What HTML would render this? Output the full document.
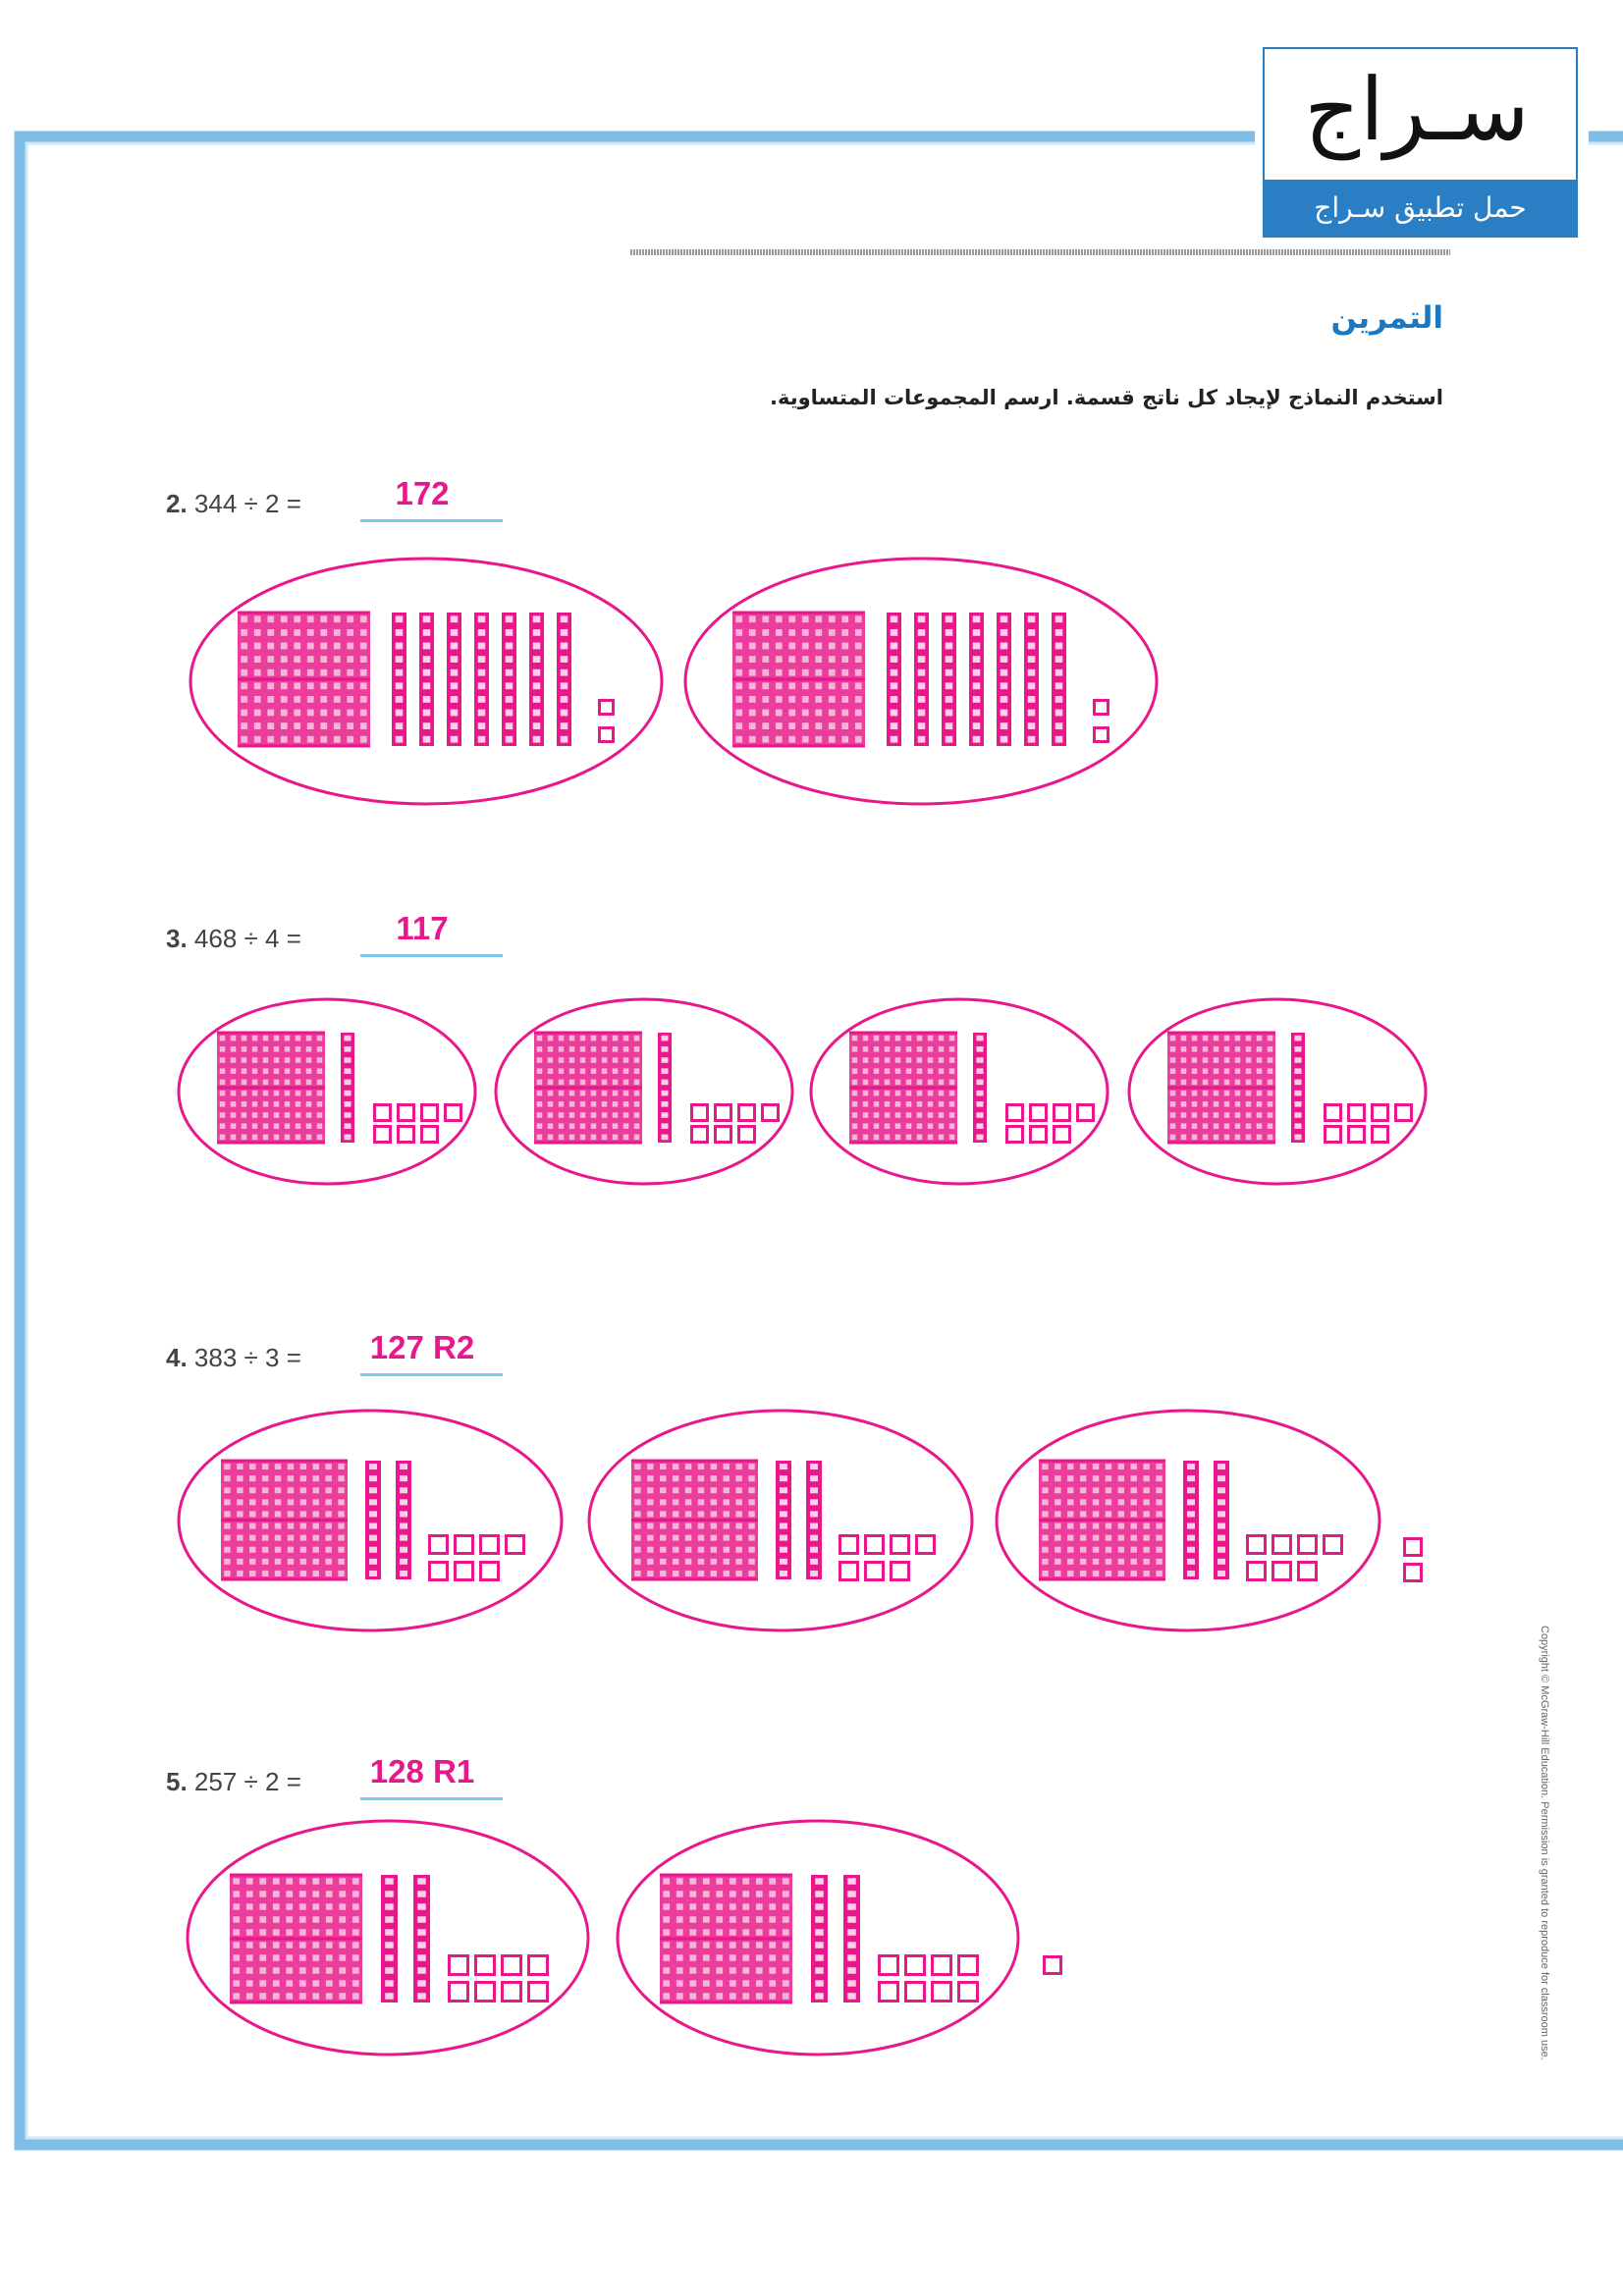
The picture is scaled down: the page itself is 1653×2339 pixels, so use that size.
<!DOCTYPE html>
<html><head><meta charset="utf-8">
<style>
html,body{margin:0;padding:0;background:#fff;}
body{width:1653px;height:2339px;position:relative;overflow:hidden;font-family:"Liberation Sans","Noto Sans CJK SC",sans-serif;}
svg{position:absolute;left:0;top:0;}
.ar{position:absolute;direction:rtl;text-align:right;font-family:"DejaVu Sans",sans-serif;white-space:nowrap;}
</style></head>
<body>
<svg id="s" width="1653" height="2339" viewBox="0 0 1653 2339" xmlns="http://www.w3.org/2000/svg">
<rect x="20" y="139" width="1653" height="2046" fill="none" stroke="#7dbde8" stroke-width="11"/>
<rect x="27" y="146" width="1653" height="2032" fill="none" stroke="#cfe6f7" stroke-width="3"/>
<rect x="1278" y="40" width="340" height="210" fill="#fff"/>
<rect x="1287" y="49" width="319" height="192" fill="#fff" stroke="#2a7fc4" stroke-width="2"/>
<rect x="1287" y="183" width="319" height="58" fill="#2a7fc4"/>
<line x1="642" y1="257" x2="1477" y2="257" stroke="#999" stroke-width="6" stroke-dasharray="2 1"/>
<text transform="translate(1570,1656) rotate(90)" font-size="11" fill="#666">Copyright © McGraw-Hill Education. Permission is granted to reproduce for classroom use.</text>
<g id="g"></g>
</svg>
<div class="ar" style="right:60px;top:52px;width:300px;text-align:center;font-size:88px;line-height:120px;color:#111;font-weight:300;">سـراج</div>
<div class="ar" style="right:47px;top:190px;width:319px;text-align:center;font-size:28px;line-height:44px;color:#fff;">حمل تطبيق سـراج</div>
<div class="ar" style="right:183px;top:302px;font-size:31px;font-weight:bold;color:#1a78c2;line-height:44px;">التمرين</div>
<div class="ar" style="right:183px;top:390px;font-size:21px;font-weight:bold;color:#222;line-height:30px;">استخدم النماذج لإيجاد كل ناتج قسمة. ارسم المجموعات المتساوية.</div>
<script>
var P="#e8188c",g=document.getElementById("g"),h="";
function R(x,y,w,hh,f,s,sw){h+='<rect x="'+x+'" y="'+y+'" width="'+w+'" height="'+hh+'" fill="'+f+'" stroke="'+(s||"none")+'" stroke-width="'+(sw||0)+'"/>';}
function flat(x,y,w,hh){R(x,y,w,hh,"#ea3d9c");for(var i=0;i<10;i++){for(var j=0;j<10;j++){R(x+i*w/10+w/40,y+j*hh/10+hh/40,w/20,hh/20,"#f8b4d8");}}for(var k=0;k<=10;k+=5)R(x,y+k*hh/10-1.5,w,3,P);}
function rod(x,y,w,hh){R(x,y,w,hh,P);for(var j=0;j<10;j++)R(x+w*0.25,y+j*hh/10+hh/40,w*0.5,hh/20,"#fbd0e6");}
function unit(x,y,s){R(x+1.5,y+1.5,s-3,s-3,"#fff",P,3);}
function ell(cx,cy,rx,ry){h+='<ellipse cx="'+cx+'" cy="'+cy+'" rx="'+rx+'" ry="'+ry+'" fill="none" stroke="'+P+'" stroke-width="3"/>';}
function label(y,txt,ans,ax){h+='<text x="169" y="'+y+'" font-size="26" fill="#444"><tspan font-weight="bold">'+txt.split(" ")[0]+'</tspan> '+txt.substring(txt.indexOf(" ")+1)+'</text>';
 h+='<text x="'+ax+'" y="'+(y-8)+'" text-anchor="middle" font-size="33" font-weight="bold" fill="'+P+'">'+ans+'</text>';
 R(367,y+7,145,3,"#7cc9ee");}
label(522,"2. 344 ÷ 2 =","172",430);
[434,938].forEach(function(cx){var d=cx-434;ell(cx,694,240,125);flat(242+d,624,135,136);
 for(var r=0;r<7;r++)rod(399+d+r*28,624,15,136);unit(609+d,712,17);unit(609+d,740,17);});
label(965,"3. 468 ÷ 4 =","117",430);
[333,656,977,1301].forEach(function(cx){var d=cx-333;ell(cx,1112,151,94);flat(221+d,1052,110,112);rod(347+d,1052,14,112);
 for(var i=0;i<4;i++)unit(380+d+i*24,1124,19);for(var i=0;i<3;i++)unit(380+d+i*24,1146,19);});
label(1392,"4. 383 ÷ 3 =","127 R2",430);
[377,795,1210].forEach(function(cx){var d=cx-377;ell(cx,1549,195,112);flat(225+d,1488,129,121);rod(372+d,1488,16,121);rod(403+d,1488,16,121);
 for(var i=0;i<4;i++)unit(436+d+i*26,1563,21);for(var i=0;i<3;i++)unit(436+d+i*26,1590,21);});
unit(1429,1566,20);unit(1429,1592,20);
label(1824,"5. 257 ÷ 2 =","128 R1",430);
[395,833].forEach(function(cx){var d=cx-395;ell(cx,1974,204,119);flat(234+d,1910,135,130);rod(388+d,1910,17,130);rod(421+d,1910,17,130);
 for(var i=0;i<4;i++)unit(456+d+i*27,1991,22);for(var i=0;i<4;i++)unit(456+d+i*27,2018,22);});
unit(1062,1992,20);
g.innerHTML=h;
</script>
</body></html>
